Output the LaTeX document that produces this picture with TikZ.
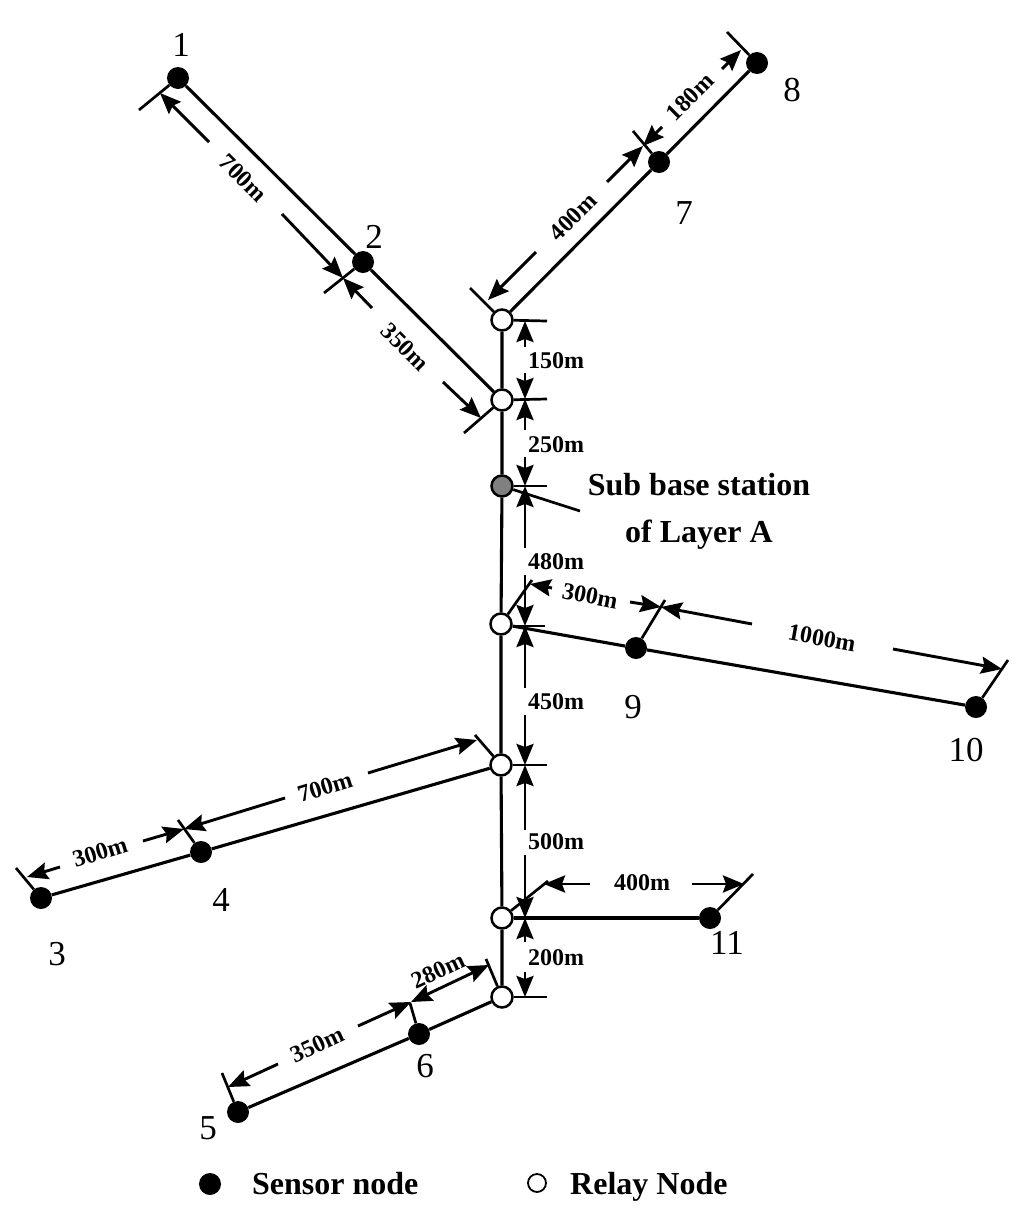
\documentclass[tikz,border=0pt]{standalone}
\usepackage{fontspec}
\setmainfont{Liberation Serif}
\usetikzlibrary{arrows.meta}
\begin{document}
\begin{tikzpicture}[x=1pt,y=-1pt,
  wire/.style={line width=3.1pt},
  sensor/.style={circle,fill=black,minimum size=22pt,inner sep=0pt},
  relay/.style={circle,draw=black,line width=2.5pt,fill=white,minimum size=21pt,inner sep=0pt},
  subbase/.style={relay,fill=black!50},
  tip/.tip={Stealth[length=21pt,width=17pt,inset=3pt]},
  dimarrow/.style={line width=2.9pt,-tip},
  dimboth/.style={line width=2.9pt,tip-tip},
  tickline/.style={line width=2.7pt},
  dimlabel/.style={font=\bfseries\fontsize{24}{28}\selectfont,inner sep=0pt},
  numlabel/.style={font=\fontsize{35}{40}\selectfont,inner sep=0pt},
  biglabel/.style={font=\bfseries\fontsize{32}{47}\selectfont,inner sep=0pt,align=center},
]
\useasboundingbox (0,0) rectangle (1024,1224);

% ---------- nodes ----------
\node[sensor] (n1) at (178,78) {};
\node[sensor] (n2) at (363,262) {};
\node[sensor] (n7) at (659,162) {};
\node[sensor] (n8) at (757,63) {};
\node[relay] (R1) at (502,320) {};
\node[relay] (R2) at (502,400) {};
\node[subbase] (S) at (502,486) {};
\node[relay] (R3) at (501,624) {};
\node[sensor] (n9) at (636,648) {};
\node[sensor] (n10) at (976,707) {};
\node[relay] (R4) at (501,765) {};
\node[sensor] (n4) at (201,852) {};
\node[sensor] (n3) at (41,898) {};
\node[relay] (R5) at (502,918) {};
\node[sensor] (n11) at (710,918) {};
\node[relay] (R6) at (502,997) {};
\node[sensor] (n6) at (419,1034) {};
\node[sensor] (n5) at (238,1112) {};

% ---------- network lines ----------
\draw[wire] (R1) -- (R2) -- (S) -- (R3) -- (R4) -- (R5) -- (R6);
\draw[wire] (n1) -- (n2) -- (R2);
\draw[wire] (R1) -- (n7) -- (n8);
\draw[wire] (R3) -- (n9) -- (n10);
\draw[wire] (R4) -- (n4) -- (n3);
\draw[wire] (R5) -- (n11);
\draw[wire] (R6) -- (n6) -- (n5);

% ---------- number labels ----------
\node[numlabel] (l1) at (181,45) {1};
\node[numlabel] (l2) at (374,237) {2};
\node[numlabel] (l8) at (792,90) {8};
\node[numlabel] (l7) at (684,213) {7};
\node[numlabel] (l9) at (633,707) {9};
\node[numlabel] (l10) at (966,750) {10};
\node[numlabel] (l3) at (57,954) {3};
\node[numlabel] (l4) at (221,900) {4};
\node[numlabel] (l11) at (727,943) {11};
\node[numlabel] (l5) at (208,1128) {5};
\node[numlabel] (l6) at (425,1066) {6};

% ---------- trunk ticks and vertical dimensions ----------
\coordinate (h1) at (547,321);
\coordinate (h2) at (547,399);
\coordinate (h3) at (547,486);
\coordinate (h4) at (545,626);
\coordinate (h5) at (547,765);
\coordinate (h7) at (547,997);
\draw[tickline] (R1) -- (h1);
\draw[tickline] (R2) -- (h2);
\draw[tickline] (S) -- (h3);
\draw[tickline] (R3.east) ++(0,2) -- (h4);
\draw[tickline] (R4) -- (h5);
\draw[tickline] (R6) -- (h7);

\coordinate (v1) at (525,321);
\coordinate (v2) at (525,399);
\coordinate (v3) at (525,486);
\coordinate (v4) at (525,626);
\coordinate (v5) at (525,765);
\coordinate (v6) at (525,918);
\coordinate (v7) at (525,997);

\coordinate (a150u) at (525,347);
\coordinate (a150d) at (525,373);
\draw[dimarrow] (a150u) -- (v1);
\draw[dimarrow] (a150d) -- (v2);
\node[dimlabel,anchor=west] (t150) at (528,361) {150m};

\coordinate (a250u) at (525,430);
\coordinate (a250d) at (525,457);
\draw[dimarrow] (a250u) -- (v2);
\draw[dimarrow] (a250d) -- (v3);
\node[dimlabel,anchor=west] (t250) at (528,445) {250m};

\coordinate (a480u) at (525,548);
\coordinate (a480d) at (525,575);
\draw[dimarrow] (a480u) -- (v3);
\draw[dimarrow] (a480d) -- (v4);
\node[dimlabel,anchor=west] (t480) at (528,562) {480m};

\coordinate (a450u) at (525,688);
\coordinate (a450d) at (525,715);
\draw[dimarrow] (a450u) -- (v4);
\draw[dimarrow] (a450d) -- (v5);
\node[dimlabel,anchor=west] (t450) at (528,702) {450m};

\coordinate (a500u) at (525,830);
\coordinate (a500d) at (525,855);
\draw[dimarrow] (a500u) -- (v5);
\draw[dimarrow] (a500d) -- (v6);
\node[dimlabel,anchor=west] (t500) at (528,842) {500m};

\coordinate (a200u) at (525,942);
\coordinate (a200d) at (525,972);
\draw[dimarrow] (a200u) -- (v6);
\draw[dimarrow] (a200d) -- (v7);
\node[dimlabel,anchor=west] (t200) at (528,958) {200m};

% ---------- sub base station label ----------
\coordinate (sbp) at (580,511);
\draw[tickline] (S) -- (sbp);
\node[biglabel] (sbl) at (699,511) {Sub base station\\of Layer A};

% ---------- branch 1-2 dimensions ----------
\coordinate (e1) at (139,110);
\coordinate (e2) at (324,293);
\coordinate (eR2) at (464,433);
\draw[tickline] (n1) -- (e1);
\draw[tickline] (n2) -- (e2);
\draw[tickline] (R2) -- (eR2);
\coordinate (p1) at (160,93);
\coordinate (p2) at (343,278);
\coordinate (pR2) at (481,418);
\coordinate (a700a) at (209,142);
\coordinate (a700b) at (282,214);
\draw[dimarrow] (a700a) -- (p1);
\draw[dimarrow] (a700b) -- (p2);
\node[dimlabel,rotate=-45] (t700a) at (243,178) {700m};
\coordinate (a350a) at (372,308);
\coordinate (a350b) at (443,382);
\draw[dimarrow] (a350a) -- (p2);
\draw[dimarrow] (a350b) -- (pR2);
\node[dimlabel,rotate=-45] (t350a) at (405,347) {350m};

% ---------- branch 7-8 dimensions ----------
\coordinate (e8) at (727,32);
\coordinate (e7) at (633,131);
\coordinate (eR1) at (470,288);
\draw[tickline] (n8) -- (e8);
\draw[tickline] (n7) -- (e7);
\draw[tickline] (R1) -- (eR1);
\coordinate (q8) at (741,50);
\coordinate (q7) at (643,146);
\coordinate (qR1) at (488,300);
\coordinate (a180a) at (722,69);
\coordinate (a180b) at (662,127);
\draw[dimarrow] (a180a) -- (q8);
\draw[dimarrow] (a180b) -- (q7);
\node[dimlabel,rotate=45] (t180) at (690,97) {180m};
\coordinate (a400a) at (607,182);
\coordinate (a400b) at (536,252);
\draw[dimarrow] (a400a) -- (q7);
\draw[dimarrow] (a400b) -- (qR1);
\node[dimlabel,rotate=45] (t400a) at (573,217) {400m};

% ---------- branch 9-10 dimensions ----------
\coordinate (eR3) at (532,580);
\coordinate (e9) at (665,600);
\coordinate (e10) at (1008,660);
\draw[tickline] (R3) -- (eR3);
\draw[tickline] (n9) -- (e9);
\draw[tickline] (n10) -- (e10);
\coordinate (rR3) at (530,584);
\coordinate (r9) at (661,607);
\coordinate (r10) at (1002,669);
\coordinate (a300a) at (552,588);
\coordinate (a300b) at (630,602);
\draw[dimarrow] (a300a) -- (rR3);
\draw[dimarrow] (a300b) -- (r9);
\node[dimlabel,rotate=-11] (t300a) at (590,596) {300m};
\coordinate (a1000a) at (752,624);
\coordinate (a1000b) at (893,649);
\draw[dimarrow] (a1000a) -- (r9);
\draw[dimarrow] (a1000b) -- (r10);
\node[dimlabel,rotate=-10] (t1000) at (822,638) {1000m};

% ---------- branch 3-4 dimensions ----------
\coordinate (e3) at (16,868);
\coordinate (e4) at (178,820);
\coordinate (eR4) at (475,735);
\draw[tickline] (n3) -- (e3);
\draw[tickline] (n4) -- (e4);
\draw[tickline] (R4) -- (eR4);
\coordinate (s3) at (27,877);
\coordinate (s4) at (184,829);
\coordinate (sR4) at (477,740);
\coordinate (a300c) at (60,867);
\coordinate (a300d) at (143,841);
\draw[dimarrow] (a300c) -- (s3);
\draw[dimarrow] (a300d) -- (s4);
\node[dimlabel,rotate=17] (t300b) at (100,852) {300m};
\coordinate (a700c) at (285,798);
\coordinate (a700d) at (368,773);
\draw[dimarrow] (a700c) -- (s4);
\draw[dimarrow] (a700d) -- (sR4);
\node[dimlabel,rotate=17] (t700b) at (325,787) {700m};

% ---------- branch 11 dimension ----------
\coordinate (eR5) at (548,881);
\coordinate (e11) at (753,874);
\draw[tickline] (R5) -- (eR5);
\draw[tickline] (n11) -- (e11);
\coordinate (uR5) at (544,884);
\coordinate (u11) at (744,884);
\coordinate (a400c) at (590,884);
\coordinate (a400d) at (692,884);
\draw[dimarrow] (a400c) -- (uR5);
\draw[dimarrow] (a400d) -- (u11);
\node[dimlabel] (t400b) at (642,883) {400m};

% ---------- branch 5-6 dimensions ----------
\coordinate (e5) at (222,1073);
\coordinate (e6) at (410,1003);
\coordinate (eR6) at (486,959);
\draw[tickline] (n5) -- (e5);
\draw[tickline] (n6) -- (e6);
\draw[tickline] (R6) -- (eR6);
\coordinate (w5) at (228,1087);
\coordinate (w6) at (411,1002);
\coordinate (wR6) at (489,965);
\coordinate (a350c) at (278,1064);
\coordinate (a350d) at (358,1026);
\draw[dimarrow] (a350c) -- (w5);
\draw[dimarrow] (a350d) -- (w6);
\node[dimlabel,rotate=25] (t350b) at (317,1045) {350m};
\draw[dimboth] (w6) -- (wR6);
\node[dimlabel,rotate=25] (t280) at (438,971) {280m};

% ---------- legend ----------
\node[sensor] (legS) at (210,1184) {};
\node[biglabel,anchor=base west] (legSt) at (252,1194) {Sensor node};
\node[circle,draw=black,line width=1.8pt,fill=white,minimum size=18pt,inner sep=0pt] (legR) at (537,1183) {};
\node[biglabel,anchor=base west] (legRt) at (570,1194) {Relay Node};
\end{tikzpicture}
\end{document}
